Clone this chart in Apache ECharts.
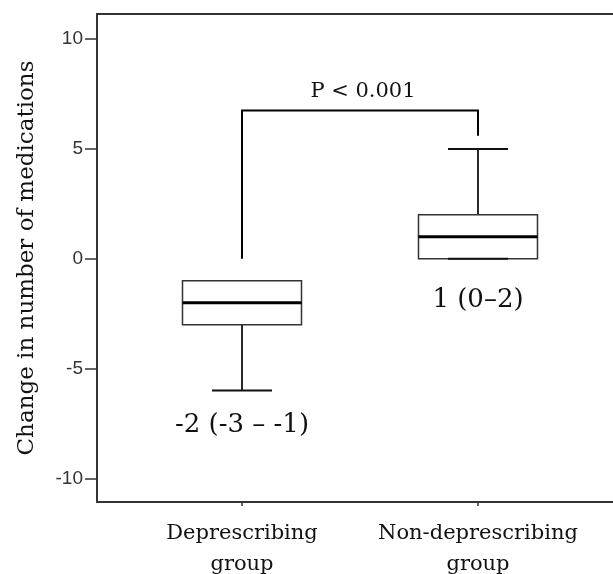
<!DOCTYPE html>
<html>
<head>
<meta charset="utf-8">
<script src="https://cdn.jsdelivr.net/npm/echarts@6/dist/echarts.min.js"></script>
<style>
  html, body { margin: 0; padding: 0; background: #fff; }
  #chart { width: 613px; height: 574px; }
</style>
</head>
<body>
<div id="chart"></div>
<script>
// ---- data ----
const categories = ['Deprescribing\ngroup', 'Non-deprescribing\ngroup'];
const groupPos = [1, 2];
const boxMin = [-6, 0];
const boxQ1 = [-3, 0];
const boxMedian = [-2, 1];
const boxQ3 = [-1, 2];
const boxMax = [-1, 5];
const summaryLabels = ['-2 (-3 – -1)', '1 (0–2)'];
const summaryLabelY = [-7.6, -1.9];
const yTicks = [-10, -5, 0, 5, 10];
const pText = 'P < 0.001';
const bracketTop = 6.75;
const bracketBottoms = [0, 5.6];
const yTitle = 'Change in number of medications';

// ---- chart ----
const chart = echarts.init(document.getElementById('chart'), null, { renderer: 'canvas' });

const boxData = groupPos.map((x, i) => [x, boxMin[i], boxQ1[i], boxMedian[i], boxQ3[i], boxMax[i]]);
const labelData = groupPos.map((x, i) => [x, summaryLabelY[i], summaryLabels[i]]);

const BOX_W = 119, CAP_W = 60;
const serif = 'DejaVu Serif';
const X_MIN = 0.3856, X_MAX = 0.3856 + 516 / 236;

function renderBox(params, api) {
  const x = api.value(0);
  const cx = api.coord([x, 0])[0];
  const y = v => api.coord([x, v])[1];
  const vMin = api.value(1), vQ1 = api.value(2), vMed = api.value(3), vQ3 = api.value(4), vMax = api.value(5);
  const yMin = y(vMin), yQ1 = y(vQ1), yMed = y(vMed), yQ3 = y(vQ3), yMax = y(vMax);
  const ls = { stroke: '#111', lineWidth: 1.8 };
  const children = [];
  if (vMin < vQ1) children.push({ type: 'line', shape: { x1: cx, y1: yQ1, x2: cx, y2: yMin }, style: ls });
  if (vMax > vQ3) children.push({ type: 'line', shape: { x1: cx, y1: yQ3, x2: cx, y2: yMax }, style: ls });
  children.push({ type: 'rect', shape: { x: cx - BOX_W / 2, y: yQ3, width: BOX_W, height: yQ1 - yQ3 },
    style: { fill: '#fff', stroke: '#333', lineWidth: 1.5 } });
  children.push({ type: 'line', shape: { x1: cx - BOX_W / 2, y1: yMed, x2: cx + BOX_W / 2, y2: yMed },
    style: { stroke: '#000', lineWidth: 3 } });
  children.push({ type: 'line', shape: { x1: cx - CAP_W / 2, y1: yMin, x2: cx + CAP_W / 2, y2: yMin }, style: ls });
  if (vMax > vQ3) children.push({ type: 'line', shape: { x1: cx - CAP_W / 2, y1: yMax, x2: cx + CAP_W / 2, y2: yMax }, style: ls });
  return { type: 'group', children };
}

function renderBracket(params, api) {
  const p1 = api.coord([groupPos[0], bracketBottoms[0]]);
  const p2 = api.coord([groupPos[0], bracketTop]);
  const p3 = api.coord([groupPos[1], bracketTop]);
  const p4 = api.coord([groupPos[1], bracketBottoms[1]]);
  const mid = api.coord([(groupPos[0] + groupPos[1]) / 2, bracketTop]);
  return {
    type: 'group',
    children: [
      { type: 'polyline', shape: { points: [p1, p2, p3, p4] },
        style: { stroke: '#000', lineWidth: 2, fill: null } },
      { type: 'text', x: mid[0] + 3, y: mid[1] - 9,
        style: { text: pText, fontFamily: serif, fontSize: 21, fill: '#111', align: 'center', verticalAlign: 'bottom' } }
    ]
  };
}

function renderLabel(params, api) {
  const pt = api.coord([api.value(0), api.value(1)]);
  return { type: 'text', x: pt[0], y: pt[1],
    style: { text: labelData[params.dataIndex][2], fontFamily: serif, fontSize: 26, fill: '#111', align: 'center', verticalAlign: 'middle' } };
}

const option = {
  animation: false,
  backgroundColor: '#fff',
  grid: { left: 97, right: 0, top: 14, bottom: 72, show: false, containLabel: false, outerBoundsMode: 'none' },
  xAxis: [{
    type: 'value', min: X_MIN, max: X_MAX, position: 'bottom',
    axisLine: { show: true, onZero: false, lineStyle: { color: '#333', width: 2 } },
    axisTick: { show: true, customValues: groupPos, length: 4, lineStyle: { color: '#333', width: 1.5 } },
    axisLabel: { customValues: groupPos, formatter: v => categories[Math.round(v) - 1],
      fontFamily: serif, fontSize: 21, lineHeight: 31, color: '#111', margin: 16 },
    splitLine: { show: false }
  }, {
    type: 'value', min: X_MIN, max: X_MAX, position: 'top',
    axisLine: { show: true, onZero: false, lineStyle: { color: '#333', width: 2 } },
    axisTick: { show: false }, axisLabel: { show: false }, splitLine: { show: false }
  }],
  yAxis: {
    type: 'value', min: -11.08, max: 11.15,
    name: yTitle, nameLocation: 'middle', nameGap: 58,
    nameTextStyle: { fontFamily: serif, fontSize: 23, color: '#111' },
    axisLine: { show: true, onZero: false, lineStyle: { color: '#333', width: 2 } },
    axisTick: { show: true, customValues: yTicks, length: 12, lineStyle: { color: '#333', width: 1.5 } },
    axisLabel: { customValues: yTicks, margin: 14, fontFamily: 'Liberation Sans', fontSize: 19, color: '#333' },
    splitLine: { show: false }
  },
  series: [
    { type: 'custom', name: 'box', renderItem: renderBox, data: boxData, encode: { x: 0, y: [1, 2, 3, 4, 5] }, clip: false, z: 3 },
    { type: 'custom', name: 'bracket', renderItem: renderBracket, data: [[1.5, bracketTop]], encode: { x: 0, y: 1 }, clip: false, z: 2 },
    { type: 'custom', name: 'labels', renderItem: renderLabel, data: labelData.map(d => [d[0], d[1]]), encode: { x: 0, y: 1 }, clip: false, z: 4 }
  ]
};
chart.setOption(option);
</script>
</body>
</html>
